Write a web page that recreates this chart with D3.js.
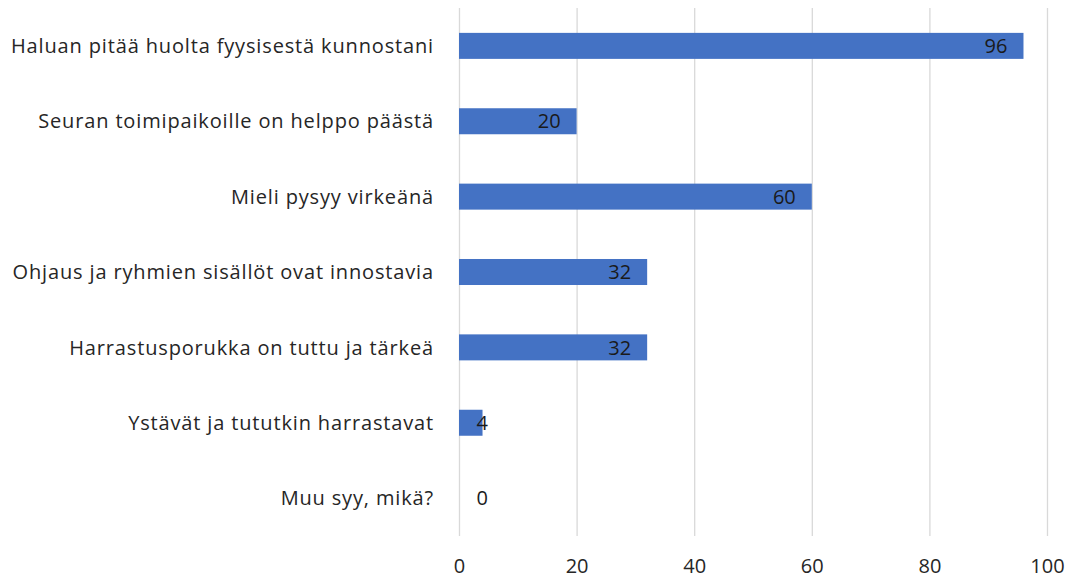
<!doctype html>
<html>
<head>
<meta charset="utf-8">
<script src="https://d3js.org/d3.v7.min.js"></script>
<style>
body { margin: 0; background: #fff; }
text { font-family: "Open Sans", "DejaVu Sans", sans-serif; }
</style>
</head>
<body>
<div id="chart"></div>
<script>
// categories, top to bottom
var categories = [
  "Haluan pitää huolta fyysisestä kunnostani",
  "Seuran toimipaikoille on helppo päästä",
  "Mieli pysyy virkeänä",
  "Ohjaus ja ryhmien sisällöt ovat innostavia",
  "Harrastusporukka on tuttu ja tärkeä",
  "Ystävät ja tututkin harrastavat",
  "Muu syy, mikä?"
];
var values = [96, 20, 60, 32, 32, 4, 0];
var ticks = [0, 20, 40, 60, 80, 100];

var data = categories.map(function(c, i) { return {cat: c, value: values[i]}; });

var W = 1074, H = 581;
var margin = {top: 8, right: 27, bottom: 45, left: 459};
var width = W - margin.left - margin.right,
    height = H - margin.top - margin.bottom;

var svg = d3.select("#chart").append("svg")
    .attr("width", W)
    .attr("height", H)
  .append("g")
    .attr("transform", "translate(" + margin.left + "," + margin.top + ")");

var x = d3.scaleLinear().domain([0, 100]).range([0, width]);
var y = d3.scaleBand().domain(categories).range([0, height]).paddingInner(0.655).paddingOuter(0.33);

// gridlines
svg.selectAll(".grid")
    .data(ticks)
  .enter().append("line")
    .attr("x1", function(d) { return x(d) + 0.5; })
    .attr("x2", function(d) { return x(d) + 0.5; })
    .attr("y1", 0)
    .attr("y2", height)
    .style("stroke", "#d9d9d9")
    .style("stroke-width", 1.3);

// bars
svg.selectAll(".bar")
    .data(data)
  .enter().append("rect")
    .attr("x", x(0))
    .attr("y", function(d) { return y(d.cat); })
    .attr("width", function(d) { return x(d.value); })
    .attr("height", y.bandwidth())
    .style("fill", "#4472c4");

// value labels (inside end)
svg.selectAll(".val")
    .data(data)
  .enter().append("text")
    .attr("x", function(d) { return Math.max(x(d.value) - 16, 29); })
    .attr("y", function(d) { return y(d.cat) + y.bandwidth() / 2; })
    .attr("dy", "0.36em")
    .attr("text-anchor", "end")
    .style("font-size", "20px")
    .style("fill", "#1a1a1a")
    .text(function(d) { return d.value; });

// category labels
svg.selectAll(".cat")
    .data(data)
  .enter().append("text")
    .attr("x", -25)
    .attr("y", function(d) { return y(d.cat) + y.bandwidth() / 2; })
    .attr("dy", "0.36em")
    .attr("text-anchor", "end")
    .style("font-size", "20px")
    .style("letter-spacing", "0.85px")
    .style("fill", "#262626")
    .text(function(d) { return d.cat; });

// x axis
var xAxis = svg.append("g")
    .attr("transform", "translate(0," + height + ")")
    .call(d3.axisBottom(x).tickValues(ticks).tickSize(0).tickPadding(23));
xAxis.select(".domain").remove();
xAxis.selectAll("text")
    .style("font-size", "20px")
    .style("fill", "#262626")
    .style("font-family", "'Open Sans', sans-serif");
</script>
</body>
</html>
